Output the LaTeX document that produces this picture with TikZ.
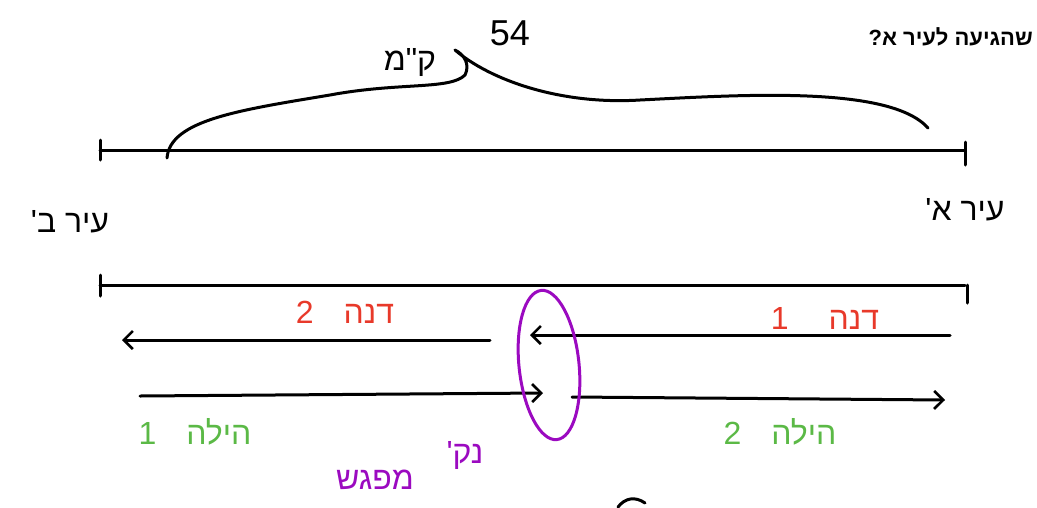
\documentclass[tikz,border=0pt]{standalone}
\usepackage{fontspec}
\setmainfont{Liberation Sans}
\newfontfamily\hebfont[Script=Hebrew]{Liberation Sans}
\TeXXeTstate=1
\usetikzlibrary{arrows.meta}
\definecolor{penred}{HTML}{E8392A}
\definecolor{pengreen}{HTML}{5BB946}
\definecolor{penpurple}{HTML}{9B0AC0}
\begin{document}
\begin{tikzpicture}[x=1pt,y=-1pt,
  pen/.style={line width=3pt,line cap=round,line join=round},
  barb/.style={-{Straight Barb[length=9pt,width=18pt,line width=2.6pt]}},
  hw/.style={font=\hebfont\fontsize{32}{32}\selectfont,inner sep=0pt},
  typed/.style={font=\hebfont\bfseries\fontsize{22}{22}\selectfont,inner sep=0pt}]
\useasboundingbox (0,0) rectangle (1037,507);
% top segment
\coordinate (tl) at (100,150); \coordinate (tr) at (965,150);
\draw[pen] (tl) -- (tr);
\draw[pen] (100,140) -- (100,160);
\draw[pen] (965,142) -- (965,165);
% brace
\draw[pen] (167,158) .. controls (170,120) and (240,110) .. (330,95)
  .. controls (400,82) and (450,90) .. (465,75)
  .. controls (470,65) and (465,55) .. (455,50)
  (455,50) .. controls (490,80) and (560,105) .. (640,100)
  .. controls (740,95) and (890,85) .. (928,128);
\node[hw] (km) at (410,62) {\beginR ק"מ\endR};
\node[hw,font=\fontsize{36}{36}\selectfont] (dist) at (510,33) {54};
\node[typed,anchor=east] (q) at (1033,37) {\beginR שהגיעה לעיר א?\endR};
% cities
\node[hw] (cityB) at (70,222) {\beginR עיר ב'\endR};
\node[hw] (cityA) at (965,210) {\beginR עיר א'\endR};
% second segment
\draw[pen] (100,285) -- (965,285);
\draw[pen] (100,275) -- (100,296);
\draw[pen] (967,285) -- (967,303);
% Dana arrows
\coordinate (d1s) at (950,335); \coordinate (d1e) at (530,335);
\coordinate (d2s) at (490,340); \coordinate (d2e) at (122,340);
\draw[pen,barb] (d1s) -- (d1e);
\draw[pen,barb] (d2s) -- (d2e);
\node[hw,text=penred] (dana1) at (825,318) {\beginR דנה\hspace{40pt}1\endR};
\node[hw,text=penred] (dana2) at (345,312) {\beginR דנה\hspace{30pt}2\endR};
% Hila arrows
\coordinate (h1s) at (140,396); \coordinate (h1e) at (543,393);
\coordinate (h2s) at (572,397); \coordinate (h2e) at (945,400);
\draw[pen,barb] (h1s) -- (h1e);
\draw[pen,barb] (h2s) -- (h2e);
\node[hw,text=pengreen] (hila1) at (195,432) {\beginR הילה\hspace{30pt}1\endR};
\node[hw,text=pengreen] (hila2) at (780,432) {\beginR הילה\hspace{30pt}2\endR};
% meeting point
\draw[penpurple,line width=3pt,rotate around={6:(549,365)}] (549,365) ellipse [x radius=30,y radius=75];
\node[hw,text=penpurple] (meetA) at (465,455) {\beginR נק'\endR};
\node[hw,text=penpurple] (meetB) at (375,480) {\beginR מפגש\endR};
% stray stroke at bottom edge
\draw[pen] (618,507) .. controls (625,498) and (635,496) .. (645,503);
\end{tikzpicture}
\end{document}
